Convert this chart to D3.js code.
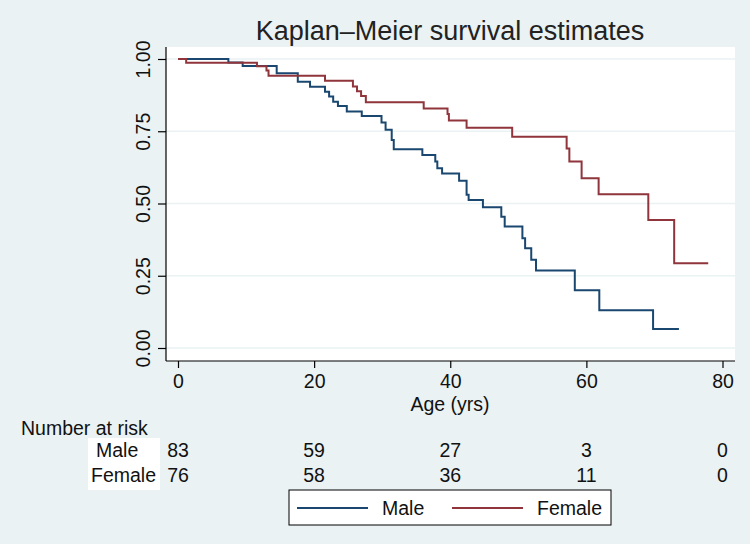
<!DOCTYPE html>
<html>
<head>
<meta charset="utf-8">
<script src="https://cdn.jsdelivr.net/npm/d3@7"></script>
<style>
  body { margin: 0; background: #eaf2f3; }
  svg { display: block; font-family: "Liberation Sans", Arial, sans-serif; }
</style>
</head>
<body>
<div id="chart"></div>
<script>
// Kaplan-Meier step values (time of drop, survival after it)
const maleTime = [0, 7.4, 9.5, 14.5, 17.6, 19.4, 21.6, 22.2, 22.8, 23.5, 24.8, 27.0, 29.9, 30.5, 31.4, 31.7,
                  35.9, 37.8, 38.1, 38.8, 41.3, 42.4, 42.7, 44.8, 47.5, 48.0, 50.6, 51.0, 51.9, 52.6, 58.3, 61.9, 69.8];
const maleSurv = [1.0, 0.988, 0.976, 0.951, 0.921, 0.904, 0.887, 0.870, 0.852, 0.837, 0.818, 0.803, 0.780, 0.755, 0.720, 0.688,
                  0.668, 0.645, 0.622, 0.604, 0.579, 0.530, 0.512, 0.487, 0.454, 0.420, 0.380, 0.345, 0.305, 0.268, 0.200, 0.131, 0.066];
const maleEnd = 73.6;

const femaleTime = [0, 1.2, 11.6, 13.0, 13.3, 21.6, 25.7, 26.3, 26.9, 27.6, 36.1, 39.6, 39.8, 42.4, 49.1,
                    57.1, 57.5, 59.3, 61.8, 69.1, 72.9];
const femaleSurv = [1.0, 0.987, 0.975, 0.960, 0.942, 0.925, 0.905, 0.888, 0.872, 0.850, 0.829, 0.810, 0.787, 0.762, 0.731,
                    0.690, 0.645, 0.587, 0.532, 0.443, 0.293];
const femaleEnd = 77.9;

const xTicks = [0, 20, 40, 60, 80];
const yTicks = [0, 0.25, 0.5, 0.75, 1];

const riskGroups = ['Male', 'Female'];
const riskMale = [83, 59, 27, 3, 0];
const riskFemale = [76, 58, 36, 11, 0];

const colors = { Male: '#1a476f', Female: '#90353b' };

const width = 750, height = 544;
const plot = { left: 166, right: 735, top: 47, bottom: 361 };

const svg = d3.select('#chart')
    .append('svg')
    .attr('width', width)
    .attr('height', height)
    .attr('viewBox', `0 0 ${width} ${height}`);

svg.append('rect')
    .attr('width', width)
    .attr('height', height)
    .attr('fill', '#eaf2f3');

// plot region
svg.append('rect')
    .attr('x', plot.left)
    .attr('y', plot.top)
    .attr('width', plot.right - plot.left)
    .attr('height', plot.bottom - plot.top)
    .attr('fill', '#ffffff');

const x = d3.scaleLinear().domain([0, 80]).range([178, 722.5]);
const y = d3.scaleLinear().domain([0, 1]).range([348, 59]);

// gridlines
svg.append('g')
    .selectAll('line')
    .data(yTicks)
    .join('line')
    .attr('x1', plot.left)
    .attr('x2', plot.right)
    .attr('y1', d => y(d))
    .attr('y2', d => y(d))
    .attr('stroke', '#eaf2f3')
    .attr('stroke-width', 1.5);

// title
svg.append('text')
    .attr('x', 450)
    .attr('y', 40)
    .attr('text-anchor', 'middle')
    .attr('fill', '#222')
    .style('font-size', '27px')
    .text('Kaplan–Meier survival estimates');

// x axis
const xAxis = svg.append('g')
    .attr('transform', `translate(0,${plot.bottom})`)
    .call(d3.axisBottom(x).tickValues(xTicks).tickSize(7).tickPadding(6).tickFormat(d3.format('d')));
xAxis.select('.domain').attr('d', `M${plot.left},0H${plot.right}`).attr('stroke', '#000').attr('stroke-width', 1.2);
xAxis.selectAll('.tick line').attr('stroke', '#000').attr('stroke-width', 1.2);
xAxis.selectAll('.tick text').style('font-size', '19.5px').attr('fill', '#111');

// y axis
const yAxis = svg.append('g')
    .attr('transform', `translate(${plot.left},0)`)
    .call(d3.axisLeft(y).tickValues(yTicks).tickSize(8).tickFormat(d3.format('.2f')));
yAxis.select('.domain').attr('d', `M0,${plot.top}V${plot.bottom}`).attr('stroke', '#000').attr('stroke-width', 1.2);
yAxis.selectAll('.tick line').attr('stroke', '#000').attr('stroke-width', 1.2);
yAxis.selectAll('.tick text')
    .attr('x', null)
    .attr('dy', null)
    .attr('text-anchor', 'middle')
    .attr('transform', 'translate(-16,0) rotate(-90)')
    .style('font-size', '19.5px')
    .attr('fill', '#111');

svg.append('text')
    .attr('x', 450)
    .attr('y', 411)
    .attr('text-anchor', 'middle')
    .attr('fill', '#111')
    .style('font-size', '19.5px')
    .text('Age (yrs)');

// survival curves
const line = d3.line()
    .x(d => x(d[0]))
    .y(d => y(d[1]))
    .curve(d3.curveStepAfter);

function steps(times, surv, end) {
    const pts = times.map((t, i) => [t, surv[i]]);
    pts.push([end, surv[surv.length - 1]]);
    return pts;
}

const curves = [
    { name: 'Male', pts: steps(maleTime, maleSurv, maleEnd) },
    { name: 'Female', pts: steps(femaleTime, femaleSurv, femaleEnd) }
];

svg.append('g')
    .selectAll('path')
    .data(curves)
    .join('path')
    .attr('d', d => line(d.pts))
    .attr('fill', 'none')
    .attr('stroke', d => colors[d.name])
    .attr('stroke-width', 2);

// number at risk table
svg.append('text')
    .attr('x', 21)
    .attr('y', 435)
    .attr('fill', '#111')
    .style('font-size', '19.5px')
    .text('Number at risk');

svg.append('rect')
    .attr('x', 88)
    .attr('y', 438)
    .attr('width', 72)
    .attr('height', 52)
    .attr('fill', '#ffffff');

const rowY = [457, 482];
const labelX = [96, 91];
[riskMale, riskFemale].forEach((vals, r) => {
    svg.append('text')
        .attr('x', labelX[r])
        .attr('y', rowY[r])
        .attr('fill', '#111')
        .style('font-size', '19.5px')
        .text(riskGroups[r]);
    svg.append('g')
        .selectAll('text')
        .data(vals)
        .join('text')
        .attr('x', (d, i) => x(xTicks[i]))
        .attr('y', rowY[r])
        .attr('text-anchor', 'middle')
        .attr('fill', '#111')
        .style('font-size', '19.5px')
        .text(d => d);
});

// legend
const legend = svg.append('g');
legend.append('rect')
    .attr('x', 289)
    .attr('y', 490)
    .attr('width', 322)
    .attr('height', 35)
    .attr('fill', '#ffffff')
    .attr('stroke', '#000')
    .attr('stroke-width', 1);

const legendItems = [
    { name: 'Male', x1: 297, x2: 368, tx: 382 },
    { name: 'Female', x1: 452, x2: 523, tx: 537 }
];
legendItems.forEach(item => {
    legend.append('line')
        .attr('x1', item.x1)
        .attr('x2', item.x2)
        .attr('y1', 508)
        .attr('y2', 508)
        .attr('stroke', colors[item.name])
        .attr('stroke-width', 2);
    legend.append('text')
        .attr('x', item.tx)
        .attr('y', 515)
        .attr('fill', '#111')
        .style('font-size', '19.5px')
        .text(item.name);
});
</script>
</body>
</html>
